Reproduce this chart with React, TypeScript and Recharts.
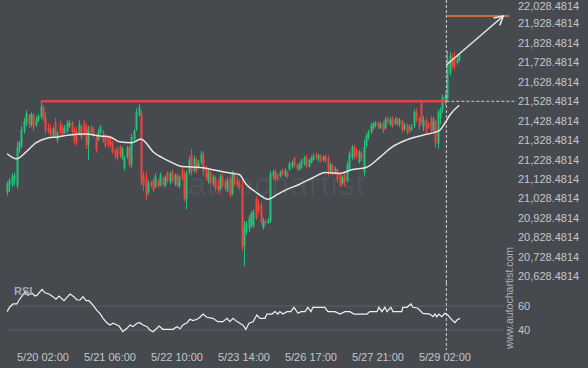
import React from "react";
import { Bar, ComposedChart, Line, ReferenceLine, XAxis, YAxis } from "recharts";

// hourly candles [open, high, low, close], one leg per date label
const leg1 = [
  [21061, 21116, 21045, 21106], [21096, 21132, 21061, 21121], [21101, 21157, 21086, 21142], [21127, 21162, 21096, 21147],
  [21096, 21320, 21081, 21289], [21279, 21325, 21264, 21315], [21304, 21401, 21289, 21381], [21376, 21442, 21360, 21426],
  [21416, 21482, 21401, 21467], [21457, 21462, 21391, 21406], [21406, 21472, 21396, 21462], [21457, 21467, 21376, 21396],
  [21406, 21452, 21396, 21436], [21431, 21462, 21421, 21452], [21447, 21523, 21436, 21503], [21497, 21508, 21426, 21442],
  [21447, 21472, 21360, 21381], [21386, 21416, 21365, 21376], [21391, 21406, 21340, 21355], [21350, 21396, 21345, 21386],
  [21421, 21442, 21340, 21355], [21330, 21376, 21315, 21365], [21411, 21426, 21360, 21370], [21396, 21411, 21350, 21360],
  [21365, 21406, 21360, 21391], [21376, 21431, 21365, 21416], [21401, 21431, 21391, 21421], [21416, 21426, 21350, 21370]
];
const leg2 = [
  [21381, 21396, 21310, 21325], [21376, 21396, 21299, 21315], [21360, 21431, 21355, 21411], [21396, 21406, 21330, 21345],
  [21416, 21431, 21355, 21370], [21396, 21411, 21284, 21304], [21304, 21401, 21228, 21381], [21396, 21406, 21360, 21370],
  [21386, 21396, 21340, 21350], [21340, 21350, 21264, 21279], [21330, 21386, 21325, 21370], [21365, 21406, 21360, 21396],
  [21365, 21381, 21315, 21325], [21350, 21360, 21289, 21299], [21345, 21355, 21289, 21304], [21325, 21340, 21294, 21310],
  [21315, 21325, 21259, 21269], [21279, 21284, 21233, 21243], [21284, 21294, 21223, 21238], [21294, 21304, 21238, 21254],
  [21238, 21294, 21228, 21284], [21188, 21249, 21172, 21238], [21243, 21299, 21233, 21289], [21294, 21299, 21188, 21203],
  [21203, 21360, 21188, 21345], [21335, 21386, 21325, 21376], [21386, 21492, 21376, 21472], [21457, 21513, 21452, 21497]
];
const leg3 = [
  [21467, 21482, 21096, 21116], [21147, 21167, 21066, 21096], [21137, 21167, 21020, 21045], [21061, 21121, 21050, 21106],
  [21111, 21121, 21086, 21096], [21121, 21132, 21061, 21071], [21091, 21157, 21081, 21142], [21121, 21127, 21081, 21091],
  [21096, 21162, 21091, 21152], [21137, 21142, 21086, 21096], [21096, 21147, 21086, 21137], [21162, 21167, 21111, 21121],
  [21111, 21167, 21101, 21157], [21167, 21177, 21111, 21121], [21101, 21157, 21091, 21147], [21152, 21157, 21086, 21096],
  [21091, 21147, 21081, 21137], [21177, 21188, 21121, 21132], [21152, 21167, 21015, 21030], [21025, 21172, 20974, 21157],
  [21162, 21243, 21152, 21228], [21254, 21284, 21147, 21167], [21172, 21249, 21162, 21233], [21228, 21238, 21157, 21167],
  [21193, 21228, 21182, 21213], [21213, 21274, 21203, 21259], [21249, 21269, 21142, 21167], [21177, 21198, 21121, 21137]
];
const leg4 = [
  [21121, 21177, 21106, 21162], [21162, 21172, 21101, 21111], [21106, 21152, 21091, 21142], [21137, 21147, 21066, 21081],
  [21096, 21127, 21055, 21071], [21076, 21157, 21071, 21142], [21142, 21157, 21086, 21096], [21116, 21127, 21066, 21081],
  [21071, 21137, 21061, 21121], [21127, 21137, 21030, 21045], [21055, 21172, 21045, 21157], [21157, 21167, 21091, 21106],
  [21127, 21142, 21086, 21096], [21106, 21121, 21076, 21086], [21096, 21127, 20761, 20776], [20786, 20913, 20680, 20883],
  [20857, 20913, 20842, 20898], [20873, 20944, 20857, 20929], [20893, 20964, 20878, 20954], [20888, 20974, 20878, 20959],
  [21030, 21040, 20918, 20929], [21000, 21025, 20949, 20964], [20995, 21015, 20893, 20908], [20878, 20929, 20868, 20913],
  [20908, 20923, 20893, 20903], [20903, 20929, 20898, 20918], [20913, 21172, 20903, 21157], [21147, 21177, 21127, 21167]
];
const leg5 = [
  [21167, 21177, 21116, 21127], [21152, 21157, 21121, 21132], [21142, 21172, 21137, 21162], [21177, 21182, 21147, 21157],
  [21147, 21182, 21137, 21172], [21162, 21167, 21132, 21142], [21177, 21218, 21172, 21208], [21193, 21223, 21182, 21213],
  [21238, 21243, 21188, 21198], [21203, 21208, 21172, 21182], [21177, 21213, 21172, 21203], [21188, 21233, 21182, 21223],
  [21208, 21249, 21198, 21238], [21243, 21254, 21182, 21193], [21193, 21233, 21188, 21228], [21213, 21249, 21208, 21238],
  [21228, 21259, 21223, 21249], [21249, 21264, 21228, 21238], [21238, 21259, 21218, 21249], [21249, 21254, 21213, 21223],
  [21228, 21249, 21218, 21243], [21249, 21254, 21213, 21223], [21233, 21249, 21142, 21172], [21167, 21213, 21157, 21203],
  [21198, 21208, 21147, 21157], [21167, 21193, 21152, 21182], [21177, 21182, 21111, 21127], [21152, 21162, 21086, 21096]
];
const leg6 = [
  [21111, 21147, 21101, 21137], [21152, 21162, 21091, 21106], [21121, 21218, 21111, 21203], [21177, 21274, 21167, 21259],
  [21238, 21304, 21228, 21294], [21294, 21304, 21228, 21243], [21279, 21289, 21233, 21249], [21218, 21279, 21208, 21269],
  [21264, 21274, 21223, 21238], [21162, 21330, 21142, 21294], [21299, 21365, 21289, 21350], [21340, 21381, 21330, 21370],
  [21370, 21416, 21360, 21406], [21391, 21421, 21381, 21416], [21406, 21426, 21396, 21416], [21421, 21426, 21386, 21396],
  [21391, 21421, 21386, 21411], [21416, 21426, 21365, 21381], [21391, 21447, 21381, 21431], [21442, 21452, 21411, 21421],
  [21411, 21447, 21401, 21436], [21436, 21452, 21391, 21401], [21411, 21447, 21406, 21436], [21442, 21447, 21401, 21411],
  [21411, 21442, 21396, 21431], [21426, 21436, 21365, 21381], [21386, 21416, 21376, 21406], [21406, 21416, 21360, 21370]
];
const leg7 = [
  [21396, 21411, 21365, 21376], [21381, 21411, 21376, 21396], [21401, 21487, 21391, 21472], [21472, 21492, 21421, 21431],
  [21442, 21447, 21381, 21396], [21518, 21528, 21411, 21421], [21396, 21452, 21376, 21431], [21431, 21442, 21365, 21381],
  [21411, 21421, 21386, 21396], [21442, 21452, 21360, 21376], [21381, 21447, 21370, 21426], [21426, 21436, 21289, 21315],
  [21310, 21487, 21284, 21472], [21442, 21497, 21411, 21482], [21482, 21564, 21467, 21548], [21533, 21574, 21508, 21553],
  [21543, 21787, 21533, 21746], [21675, 21782, 21660, 21762], [21757, 21772, 21696, 21711], [21751, 21782, 21690, 21706],
  [21726, 21772, 21716, 21746], [21741, 21777, 21731, 21767]
];

// moving average (candle index -> price)
const maIdx = [0, 4, 8, 12, 17, 21, 26, 33, 39, 43, 47, 52, 56, 58, 61, 65, 69, 73, 81, 86, 92, 97, 100, 104, 107, 109, 113, 117, 122, 128, 133, 139, 144, 150, 156, 161, 167, 174, 179, 181, 183, 185, 189];
const maVal = [21259, 21233, 21269, 21315, 21340, 21345, 21355, 21360, 21350, 21345, 21320, 21315, 21335, 21315, 21269, 21238, 21213, 21193, 21188, 21177, 21162, 21152, 21101, 21061, 21035, 21025, 21050, 21076, 21101, 21137, 21162, 21157, 21177, 21188, 21243, 21294, 21330, 21355, 21370, 21381, 21416, 21457, 21508];

// RSI (candle index -> value)
const rsiIdx = [0, 1.2, 2.5, 4.1, 5, 6.6, 7.5, 8.7, 10.4, 11.7, 12.5, 14.6, 15.8, 17.5, 19.2, 20.4, 21.7, 23.8, 25, 26.3, 27.9, 29.2, 30.5, 31.7, 33, 34.2, 35.9, 37.6, 38.8, 40.1, 41.7, 43, 44.3, 45.9, 46.8, 48.4, 50.1, 51.4, 52.6, 54.3, 55.5, 56.8, 58.5, 59.7, 61, 62.6, 63.5, 65.1, 69.3, 71, 72.3, 73.5, 75.2, 76.4, 77.7, 79.4, 80.6, 81.9, 83.5, 86, 88.1, 90.2, 91.9, 93.1, 94.4, 96.1, 97.3, 98.6, 99.8, 101.1, 102.8, 104.4, 105.7, 107.8, 108.6, 110.7, 112, 113.2, 114, 115.3, 117, 118.6, 119.9, 121.6, 122.8, 124.5, 125.7, 127, 127.8, 132.8, 134.1, 137, 139.1, 141.2, 143.3, 145, 150.4, 151.6, 154.6, 155.4, 156.7, 157.9, 158.8, 160.4, 161.3, 165, 165.4, 167.1, 168.8, 169.6, 171.7, 173.8, 176.7, 178, 178.8, 179.6, 180.5, 181.7, 183, 184.2, 186, 187.2, 188, 189.3];
const rsiVal = [55.3, 59.4, 61.7, 61.7, 65, 69.2, 71.9, 69, 70.6, 68.3, 69, 73.9, 71, 70, 67.8, 65.6, 68.3, 64.4, 67.2, 70, 67.8, 65, 65, 67.8, 64.4, 64.4, 60.8, 56.1, 53.9, 49.7, 46.1, 44.2, 45.6, 44.2, 43.3, 38.6, 41.4, 44.2, 42.8, 45.6, 46.1, 44.2, 42.8, 40, 38.6, 41.4, 43.3, 40.6, 40.6, 42.8, 41, 44.2, 46.1, 48.9, 47.8, 48.9, 50.6, 53.3, 50.6, 49.7, 46.9, 46.9, 49.7, 46.9, 49.7, 47, 45.6, 44, 40.6, 45.6, 46.9, 52.5, 49.7, 49.7, 53.3, 53.3, 55.3, 53.3, 55.3, 53.3, 55.3, 55.3, 58.9, 53.9, 55.3, 55.3, 58.9, 55.3, 58.9, 58.9, 55.3, 55.3, 53.3, 55.3, 55.3, 53.3, 53.3, 55.3, 55.3, 58.9, 55.3, 58.9, 55.3, 58.9, 55.3, 55.3, 58.9, 58.9, 61.7, 58.9, 58.1, 53.9, 53.3, 51.1, 53.3, 51.1, 53.3, 51.1, 53.9, 52.5, 48.3, 46.1, 48.3, 49.7];

const priceTicks = [20628.4814, 20728.4814, 20828.4814, 20928.4814, 21028.4814, 21128.4814, 21228.4814, 21328.4814, 21428.4814, 21528.4814, 21628.4814, 21728.4814, 21828.4814, 21928.4814, 22028.4814];
const rsiTicks = [40, 60];
const dateTicks = [15, 43, 71, 99, 127, 155, 183];
const dateLabels = ["5/20 02:00", "5/21 06:00", "5/22 10:00", "5/23 14:00", "5/26 17:00", "5/27 21:00", "5/29 02:00"];

const resistance = 21528.4814;
const resistanceFrom = 14;
const breakoutAt = 183.6;
const target = 21967;
const arrowFrom = { i: 183.6, v: 21715 };
const arrowTo = { i: 207.4, v: 21967 };

const BG = "#46494e";
const GREEN = "#1fc47a";
const RED = "#f0453c";
const TEXT = "#c3c6ca";
const FONT = '"Liberation Sans", Arial, sans-serif';
const X_DOMAIN: [number, number] = [-2.97, 210.2];

const candles = [leg1, leg2, leg3, leg4, leg5, leg6, leg7].flat().map((c, i) => ({
  i,
  o: c[0],
  h: c[1],
  l: c[2],
  c: c[3],
  range: [c[2], c[1]]
}));
const maData = maIdx.map((i, k) => ({ i, v: maVal[k] }));
const rsiData = rsiIdx.map((i, k) => ({ i, v: rsiVal[k] }));
const arrowData = [arrowFrom, arrowTo];

function Candle(props: any) {
  const { x, y, width, height, payload } = props;
  if (!payload || height == null || isNaN(y)) return null;
  const { o, h, l, c } = payload;
  const span = h - l || 1;
  const py = (p: number) => y + ((h - p) / span) * height;
  const cx = Math.round(x + width / 2) + 0.5;
  const color = c >= o ? GREEN : RED;
  const top = py(Math.max(o, c));
  const bot = py(Math.min(o, c));
  return (
    <g>
      <line x1={cx} x2={cx} y1={y} y2={y + height} stroke={color} strokeWidth={1} />
      <rect x={cx - 1} y={top} width={2} height={Math.max(1, bot - top)} fill={color} />
    </g>
  );
}

export default function App() {
  let start: { x: number; y: number } | null = null;
  const arrowDot = (p: any) => {
    if (p.index === 0) {
      start = { x: p.cx, y: p.cy };
      return <g key="arrow-start" />;
    }
    if (!start) return <g key="arrow-end" />;
    const ang = Math.atan2(p.cy - start.y, p.cx - start.x);
    const len = 10;
    const w = 0.5;
    const ax = p.cx - len * Math.cos(ang - w);
    const ay = p.cy - len * Math.sin(ang - w);
    const bx = p.cx - len * Math.cos(ang + w);
    const by = p.cy - len * Math.sin(ang + w);
    return (
      <path
        key="arrow-end"
        d={`M${ax},${ay} L${p.cx},${p.cy} L${bx},${by}`}
        fill="none"
        stroke="#e8e8e8"
        strokeWidth={1.5}
      />
    );
  };

  const tickStyle = { fill: TEXT, fontSize: 11, fontFamily: FONT };

  return (
    <div style={{ position: "absolute", left: 0, top: 0, width: 588, height: 368, background: BG, overflow: "hidden", fontFamily: FONT }}>
      <div style={{ position: "absolute", left: 188, top: 166, fontSize: 32, color: "rgba(255,255,255,0.06)", letterSpacing: 1 }}>
        autochartist
      </div>
      <div style={{ position: "absolute", left: 0, top: 0 }}>
        <ComposedChart width={588} height={283} data={candles} margin={{ top: 0, right: 0, bottom: 0, left: 0 }}>
          <XAxis dataKey="i" type="number" domain={X_DOMAIN} allowDataOverflow hide />
          <YAxis
            orientation="right"
            width={78}
            domain={[20594.3, 22049.3]}
            allowDataOverflow
            ticks={priceTicks}
            tickFormatter={(v: number) => v.toLocaleString("en-US", { minimumFractionDigits: 4 })}
            axisLine={false}
            tickLine={false}
            tick={tickStyle}
          />
          <ReferenceLine
            segment={[{ x: resistanceFrom, y: resistance }, { x: breakoutAt, y: resistance }]}
            stroke={RED}
            strokeWidth={2.5}
            strokeOpacity={0.9}
          />
          <ReferenceLine
            segment={[{ x: breakoutAt, y: resistance }, { x: 213, y: resistance }]}
            stroke="#cfd0d2"
            strokeDasharray="3 2"
            ifOverflow="visible"
          />
          <ReferenceLine x={breakoutAt} stroke="#cfd0d2" strokeDasharray="3 2" />
          <ReferenceLine
            segment={[{ x: 183.8, y: target }, { x: 210, y: target }]}
            stroke="#f07a3a"
            strokeWidth={1.5}
          />
          <Bar dataKey="range" barSize={2} shape={Candle} isAnimationActive={false} />
          <Line
            data={maData}
            dataKey="v"
            type="monotone"
            stroke="#e6e6e6"
            strokeWidth={1.5}
            dot={false}
            activeDot={false}
            isAnimationActive={false}
          />
          <Line
            data={arrowData}
            dataKey="v"
            type="linear"
            stroke="#e8e8e8"
            strokeWidth={1.5}
            dot={arrowDot}
            activeDot={false}
            isAnimationActive={false}
          />
        </ComposedChart>
      </div>
      <div style={{ position: "absolute", left: 0, top: 283 }}>
        <ComposedChart width={588} height={85} data={rsiData} margin={{ top: 2, right: 0, bottom: 0, left: 0 }}>
          <XAxis
            dataKey="i"
            type="number"
            domain={X_DOMAIN}
            allowDataOverflow
            ticks={dateTicks}
            tickFormatter={(v: number) => dateLabels[dateTicks.indexOf(v)] ?? ""}
            axisLine={false}
            tickLine={false}
            height={23}
            tick={tickStyle}
            interval={0}
          />
          <YAxis
            orientation="right"
            width={78}
            domain={[27.5, 77.5]}
            allowDataOverflow
            ticks={rsiTicks}
            axisLine={false}
            tickLine={false}
            tick={tickStyle}
          />
          {rsiTicks.map((t) => (
            <ReferenceLine key={t} segment={[{ x: 0, y: t }, { x: 207.3, y: t }]} stroke="#5d6166" strokeWidth={1} />
          ))}
          <ReferenceLine
            segment={[{ x: breakoutAt, y: 79.2 }, { x: breakoutAt, y: 23.3 }]}
            stroke="#cfd0d2"
            strokeDasharray="3 2"
            ifOverflow="visible"
          />
          <Line
            dataKey="v"
            type="linear"
            stroke="#f0f0f0"
            strokeWidth={1.2}
            dot={false}
            activeDot={false}
            isAnimationActive={false}
          />
        </ComposedChart>
      </div>
      <div style={{ position: "absolute", left: 14, top: 285, fontSize: 11, fontWeight: "bold", color: "#a3aab8" }}>RSI</div>
      <div
        style={{
          position: "absolute",
          left: 449,
          top: 291,
          width: 120,
          height: 14,
          lineHeight: "14px",
          fontSize: 10.5,
          textAlign: "center",
          color: "#aeb2b8",
          transform: "rotate(-90deg)",
          transformOrigin: "center"
        }}
      >
        www.autochartist.com
      </div>
    </div>
  );
}
